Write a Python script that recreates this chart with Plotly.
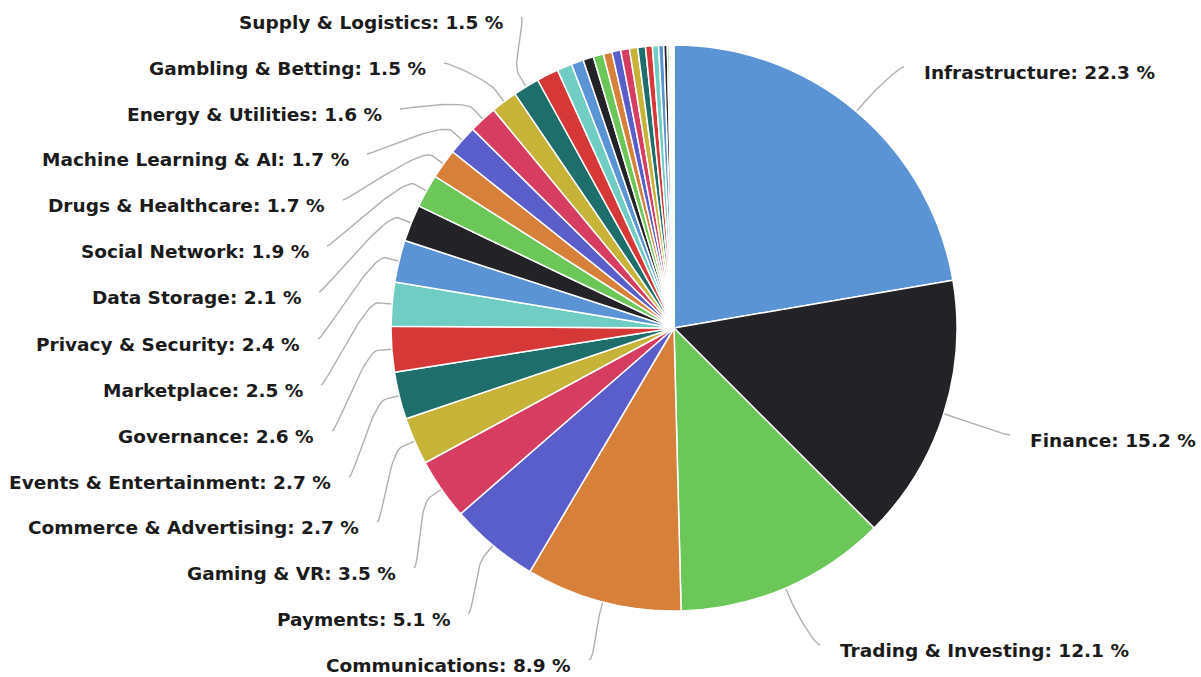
import numpy as np
import plotly.graph_objects as go

# ---------------- data ----------------
categories = [
    "Infrastructure", "Finance", "Trading & Investing", "Communications", "Payments",
    "Gaming & VR", "Commerce & Advertising", "Events & Entertainment", "Governance",
    "Marketplace", "Privacy & Security", "Data Storage", "Social Network",
    "Drugs & Healthcare", "Machine Learning & AI", "Energy & Utilities",
    "Gambling & Betting", "Supply & Logistics",
    "Other 1", "Other 2", "Other 3", "Other 4", "Other 5", "Other 6", "Other 7",
    "Other 8", "Other 9", "Other 10", "Other 11", "Other 12", "Other 13", "Other 14",
    "Other 15", "Other 16", "Other 17", "Other 18", "Other 19",
]
values = [
    22.3, 15.2, 12.1, 8.9, 5.1, 3.5, 2.7, 2.7, 2.6, 2.5, 2.4, 2.1, 1.9, 1.7, 1.7,
    1.6, 1.5, 1.5,
    1.25, 0.85, 0.7, 0.6, 0.58, 0.5, 0.5, 0.5, 0.47, 0.44, 0.39, 0.35, 0.29, 0.2,
    0.12, 0.1, 0.08, 0.05, 0.03,
]
labeled_count = 18

# ---------------- layout / style ----------------
W, H = 1201, 677
CX, CY, R = 674, 328, 283
palette = ["#5b94d4", "#232327", "#6bc858", "#d7803a", "#5a5ecb",
           "#d63d61", "#c7b338", "#1e6e6b", "#d53837", "#6fcdc4"]
colors = [palette[i % len(palette)] for i in range(len(values))]

# label anchor positions (text edge x, text centre y), in page pixels
label_x = [922, 1028, 838, 573, 452, 398, 361, 333, 316, 305, 302, 303, 311, 327, 351, 384, 428, 505]
label_y = [72, 440, 650, 665, 619, 573, 527, 482, 436, 390, 344, 297, 251, 205, 159, 114, 68, 22]
label_side = ["right", "right", "right"] + ["left"] * 15

FONT = "DejaVu Sans"
FONT_SIZE = 18.5
TEXT_COLOR = "#1b1b1b"
LINE_COLOR = "#b0b0b0"

fig = go.Figure()

fig.add_trace(go.Pie(
    labels=categories,
    values=values,
    sort=False,
    direction="clockwise",
    rotation=0,
    textinfo="none",
    marker=dict(colors=colors, line=dict(color="white", width=1.5)),
    domain=dict(x=[(CX - R) / W, (CX + R) / W], y=[(H - CY - R) / H, (H - CY + R) / H]),
    showlegend=False,
    hovertemplate="%{label}: %{value:.1f} %<extra></extra>",
))

# connectors computed from slice mid-angles
vals = np.array(values, dtype=float)
total = vals.sum()
cum = np.cumsum(vals) - vals / 2
mid_angles = cum / total * 2 * np.pi  # clockwise from 12 o'clock

annotations = []
for i in range(labeled_count):
    a = mid_angles[i]
    ux, uy = np.sin(a), -np.cos(a)
    tx, ty = CX + R * ux, CY + R * uy
    bx, by = CX + (R + 14) * ux, CY + (R + 14) * uy
    side = label_side[i]
    if side == "left":
        px, py = label_x[i] + 16, label_y[i] - 5
        c1x = px + 5
    else:
        px, py = label_x[i] - 18, label_y[i] - 5
        c1x = px - 5
    c1y = py
    c2x, c2y = 2 * bx - tx, 2 * by - ty
    t = np.linspace(0, 1, 30)
    xs = (1 - t) ** 3 * px + 3 * (1 - t) ** 2 * t * c1x + 3 * (1 - t) * t ** 2 * c2x + t ** 3 * bx
    ys = (1 - t) ** 3 * py + 3 * (1 - t) ** 2 * t * c1y + 3 * (1 - t) * t ** 2 * c2y + t ** 3 * by
    xs = np.append(xs, tx)
    ys = np.append(ys, ty)
    fig.add_trace(go.Scatter(
        x=xs, y=ys, mode="lines", line=dict(color=LINE_COLOR, width=1.4),
        hoverinfo="skip", showlegend=False,
    ))
    annotations.append(dict(
        x=label_x[i], y=label_y[i], xref="x", yref="y",
        text=f"{categories[i]}: {values[i]:.1f} %",
        showarrow=False,
        xanchor="right" if side == "left" else "left",
        yanchor="middle",
        font=dict(family=FONT, size=FONT_SIZE, color=TEXT_COLOR, weight="bold"),
    ))

fig.update_layout(
    width=W, height=H,
    margin=dict(l=0, r=0, t=0, b=0),
    paper_bgcolor="white",
    plot_bgcolor="rgba(0,0,0,0)",
    xaxis=dict(range=[0, W], visible=False, fixedrange=True, domain=[0, 1]),
    yaxis=dict(range=[H, 0], visible=False, fixedrange=True, domain=[0, 1]),
    annotations=annotations,
)

fig.write_html("out.html")
